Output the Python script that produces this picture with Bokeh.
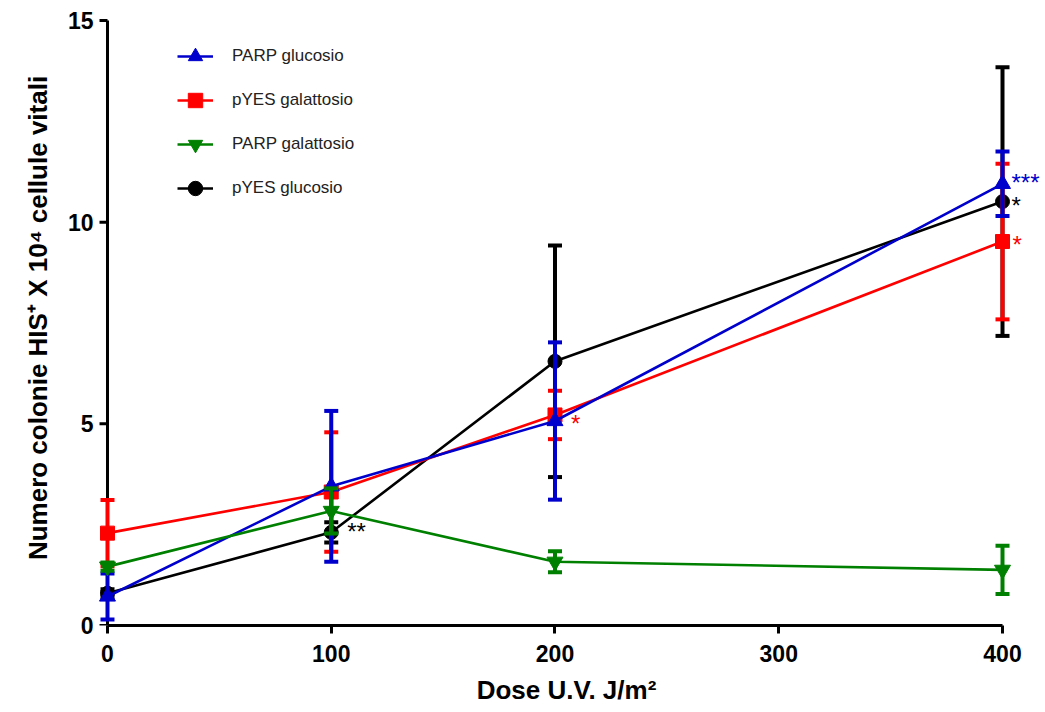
from bokeh.plotting import figure
from bokeh.models import FixedTicker, Legend, LegendItem
from bokeh.embed import file_html
from bokeh.resources import INLINE
from bokeh.core.properties import value

# ---- data ----
dose = [0, 100, 200, 400]

parp_glu = [0.72, 3.45, 5.07, 10.95]
parp_glu_err = [0.57, 1.87, 1.95, 0.80]

pyes_gal = [2.29, 3.31, 5.22, 9.52]
pyes_gal_err = [0.82, 1.48, 0.60, 1.93]

parp_gal = [1.46, 2.84, 1.58, 1.38]
parp_gal_err = [0.10, 0.56, 0.26, 0.60]

pyes_glu = [0.80, 2.31, 6.55, 10.51]
pyes_glu_err = [0.10, 0.25, 2.87, 3.33]

x_ticks = [0, 100, 200, 300, 400]
y_ticks = [0, 5, 10, 15]

series_names = ["PARP glucosio", "pYES galattosio", "PARP galattosio", "pYES glucosio"]

# significance marks: (series index, dose index, text)
star_series = [3, 1, 0, 3, 1]
star_dose_idx = [1, 2, 3, 3, 3]
star_text = ["**", "*", "***", "*", "*"]

BLUE = "#0000CC"
RED = "#FF0000"
GREEN = "#008000"
BLACK = "#000000"

FONT = "Liberation Sans"

W, H = 1044, 711
BL, BR, BT, BB = 88, 0, 10, 86
X0, X1 = -8.49, 418.77
Y0, Y1 = 0, 15.248

p = figure(width=W, height=H,
           x_range=(X0, X1), y_range=(Y0, Y1),
           output_backend="svg", toolbar_location=None,
           min_border_left=BL, min_border_right=BR,
           min_border_top=BT, min_border_bottom=BB)
p.outline_line_color = None
p.xgrid.visible = False
p.ygrid.visible = False
p.background_fill_color = "white"

# axes
p.xaxis.bounds = (0, 400)
p.xaxis.ticker = FixedTicker(ticks=x_ticks)
p.yaxis.ticker = FixedTicker(ticks=y_ticks)
for ax in (p.xaxis, p.yaxis):
    ax.axis_line_width = 3
    ax.axis_line_color = "black"
    ax.major_tick_line_width = 3
    ax.major_tick_line_color = "black"
    ax.minor_tick_line_color = None
    ax.major_label_text_font = FONT
    ax.major_label_text_font_style = "bold"
    ax.major_label_text_font_size = "23px"
    ax.major_label_text_color = "black"
    ax.axis_label_text_font = FONT
    ax.axis_label_text_font_style = "bold"
    ax.axis_label_text_color = "black"
p.xaxis.major_tick_out = 8
p.xaxis.major_tick_in = 0
p.xaxis.major_label_standoff = 11
p.xaxis.axis_label_standoff = 10
p.xaxis.axis_label_text_font_size = "26px"
p.xaxis.axis_label = "Dose U.V. J/m\u00b2"

# y axis: rule and ticks sit at dose 0 (drawn as glyphs below)
p.yaxis.axis_line_color = None
p.yaxis.major_tick_line_color = None
p.yaxis.major_tick_out = 0
p.yaxis.major_tick_in = 0
p.yaxis.major_label_standoff = -5
p.yaxis.axis_label_standoff = 12
p.yaxis.axis_label_text_font_size = "26px"
p.yaxis.axis_label = "Numero colonie HIS\u207a X 10\u2074 cellule vitali"

px_per_x = (W - BL - BR) / (X1 - X0)
tick_len = 8 / px_per_x
p.segment(x0=[x_ticks[0]], y0=[y_ticks[0]], x1=[x_ticks[0]], y1=[y_ticks[-1]],
          line_color="black", line_width=3)
p.segment(x0=[x_ticks[0] - tick_len] * len(y_ticks), y0=y_ticks,
          x1=[x_ticks[0]] * len(y_ticks), y1=y_ticks,
          line_color="black", line_width=3)

series = [
    (pyes_glu, pyes_glu_err, BLACK, "circle", 14, 3),
    (pyes_gal, pyes_gal_err, RED, "square", 14, 1),
    (parp_glu, parp_glu_err, BLUE, "triangle", 16, 0),
    (parp_gal, parp_gal_err, GREEN, "inverted_triangle", 16, 2),
]

legend_map = {}
for vals, errs, col, marker, size, idx in series:
    lo = [v - e for v, e in zip(vals, errs)]
    hi = [v + e for v, e in zip(vals, errs)]
    ln = p.line(dose, vals, line_color=col, line_width=2.6)
    p.segment(x0=dose, y0=lo, x1=dose, y1=hi, line_color=col, line_width=4)
    p.rect(x=dose, y=lo, width=14, height=4, width_units="screen",
           height_units="screen", fill_color=col, line_color=None)
    p.rect(x=dose, y=hi, width=14, height=4, width_units="screen",
           height_units="screen", fill_color=col, line_color=None)
    mk = p.scatter(dose, vals, marker=marker, size=size, fill_color=col,
                   line_color=col)
    legend_map[idx] = [ln, mk]

all_series = [parp_glu, pyes_gal, parp_gal, pyes_glu]
colors = [BLUE, RED, GREEN, BLACK]
sx = [dose[i] for i in star_dose_idx]
sy = [all_series[s][i] for s, i in zip(star_series, star_dose_idx)]
sc = [colors[s] for s in star_series]
dx = [16, 16, 9, 9, 10]
dy = [-1, 9, -1, 4, 3]
for x, y, t, c, ox, oy in zip(sx, sy, star_text, sc, dx, dy):
    p.text(x=[x], y=[y], text=[t], text_color=c, text_font=value(FONT),
           text_font_size="24px", text_baseline="alphabetic",
           text_align="left", x_offset=ox, y_offset=oy)

items = [LegendItem(label=series_names[i], renderers=legend_map[i]) for i in range(4)]
legend = Legend(items=items, location=(89, 419), border_line_color=None,
                background_fill_alpha=0, padding=0, spacing=8,
                glyph_width=36, glyph_height=36, label_height=36,
                label_standoff=19, label_text_font=FONT,
                label_text_font_size="17px", label_text_color="#222222")
p.add_layout(legend, "center")

open("out.html", "w").write(file_html(p, INLINE))
